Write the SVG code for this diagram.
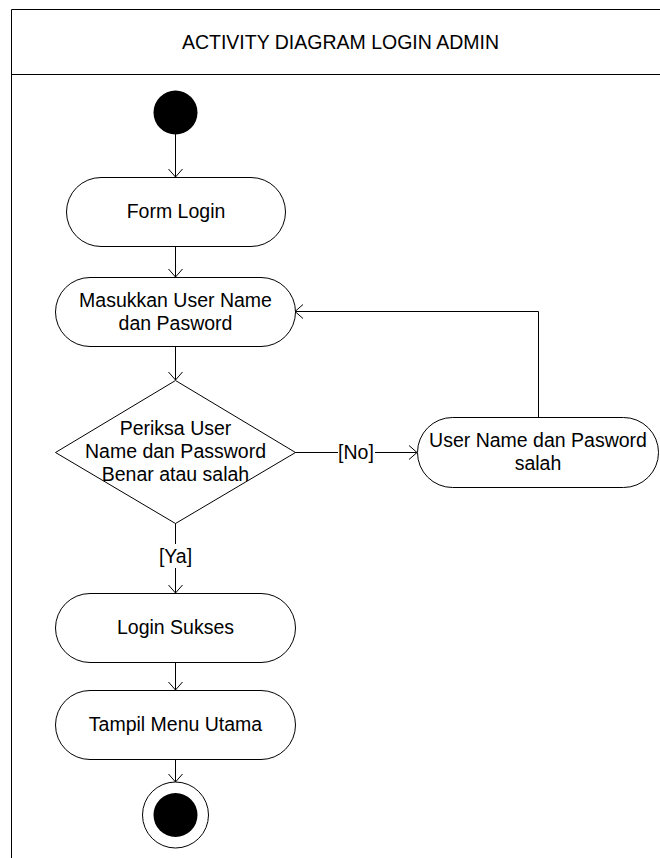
<svg xmlns="http://www.w3.org/2000/svg" width="660" height="858" viewBox="0 0 660 858">
<style>
  .frame{fill:none;stroke:#000;stroke-width:1}
  .node{fill:#fff;stroke:#000;stroke-width:1}
  .conn{fill:none;stroke:#000;stroke-width:1}
  text{font-family:"Liberation Sans",Arial,sans-serif;font-size:19.5px;fill:#000;text-anchor:middle}
  .lbg{fill:#fff;stroke:none}
</style>
<defs>
  <marker id="arr" markerUnits="userSpaceOnUse" viewBox="0 0 10 16" refX="9" refY="8" markerWidth="10" markerHeight="16" orient="auto">
    <path d="M1,1 L9,8 L1,15" fill="none" stroke="#000" stroke-width="1"/>
  </marker>
</defs>
<rect width="660" height="858" fill="#fff"/>
<g id="frame">
  <path class="frame" d="M11.5,870 L11.5,9.5 L672,9.5"/>
  <line class="frame" x1="11.5" y1="74.5" x2="672" y2="74.5"/>
  <text x="340.5" y="49">ACTIVITY DIAGRAM LOGIN ADMIN</text>
</g>
<g id="connectors">
  <line class="conn" x1="175.5" y1="134" x2="175.5" y2="177" marker-end="url(#arr)"/>
  <line class="conn" x1="175.5" y1="246" x2="175.5" y2="277" marker-end="url(#arr)"/>
  <line class="conn" x1="175.5" y1="346" x2="175.5" y2="380" marker-end="url(#arr)"/>
  <line class="conn" x1="175.5" y1="523" x2="175.5" y2="593" marker-end="url(#arr)"/>
  <rect class="lbg" x="158" y="544" width="35" height="24"/>
  <text x="175.5" y="563">[Ya]</text>
  <line class="conn" x1="295" y1="452.5" x2="417" y2="452.5" marker-end="url(#arr)"/>
  <rect class="lbg" x="338" y="440" width="37" height="24"/>
  <text x="356" y="459">[No]</text>
  <polyline class="conn" points="538.5,417 538.5,311.5 295,311.5" marker-end="url(#arr)"/>
  <line class="conn" x1="175.5" y1="662" x2="175.5" y2="690" marker-end="url(#arr)"/>
  <line class="conn" x1="175.5" y1="759" x2="175.5" y2="782" marker-end="url(#arr)"/>
</g>
<g id="start">
  <circle cx="175.5" cy="112.5" r="22" fill="#000"/>
</g>
<g id="form-login">
  <rect class="node" x="66.5" y="177.5" width="219" height="69" rx="34.5"/>
  <text x="176" y="218">Form Login</text>
</g>
<g id="masukkan">
  <rect class="node" x="55.5" y="277.5" width="240" height="69" rx="34.5"/>
  <text x="175.5" y="307">Masukkan User Name</text>
  <text x="175.5" y="330">dan Pasword</text>
</g>
<g id="periksa">
  <polygon class="node" points="175.5,380.5 295.5,452.5 175.5,523.5 55.5,452.5"/>
  <text x="175.5" y="435">Periksa User</text>
  <text x="175.5" y="458">Name dan Password</text>
  <text x="175.5" y="481">Benar atau salah</text>
</g>
<g id="salah">
  <rect class="node" x="417.5" y="417.5" width="241" height="70" rx="35"/>
  <text x="538" y="447">User Name dan Pasword</text>
  <text x="538" y="470">salah</text>
</g>
<g id="login-sukses">
  <rect class="node" x="55.5" y="593.5" width="240" height="69" rx="34.5"/>
  <text x="175.5" y="634">Login Sukses</text>
</g>
<g id="tampil-menu">
  <rect class="node" x="55.5" y="690.5" width="240" height="69" rx="34.5"/>
  <text x="175.5" y="731">Tampil Menu Utama</text>
</g>
<g id="end">
  <circle cx="175.5" cy="815" r="33" fill="#fff" stroke="#000" stroke-width="1"/>
  <circle cx="175.5" cy="815" r="22" fill="#000"/>
</g>
</svg>
